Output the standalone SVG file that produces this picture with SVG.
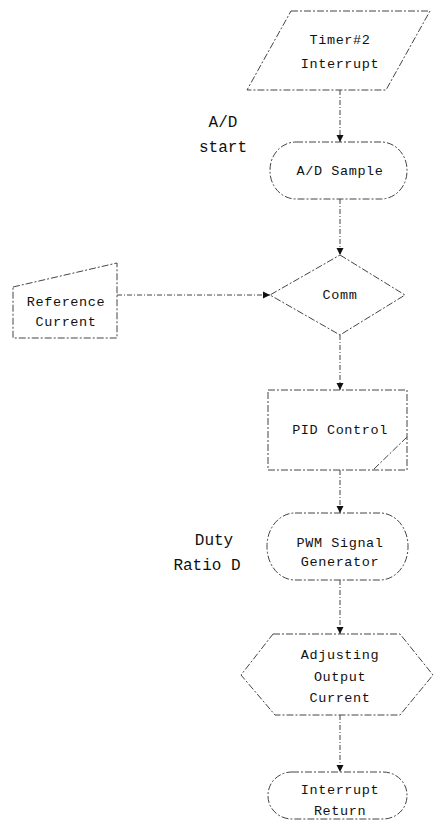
<svg xmlns="http://www.w3.org/2000/svg" width="440" height="825" viewBox="0 0 440 825">
  <defs>
    <marker id="arrow" viewBox="0 0 10 10" refX="10" refY="5" markerWidth="7" markerHeight="9" orient="auto" markerUnits="userSpaceOnUse">
      <path d="M0,0 L10,5 L0,10 z" fill="#111"/>
    </marker>
    <style>
      .shape { fill: none; stroke: #444; stroke-width: 1; stroke-dasharray: 7 2 2 2; }
      .link { fill: none; stroke: #444; stroke-width: 1; stroke-dasharray: 5 2 1 2; }
      .t { font-family: "Liberation Mono", "DejaVu Sans Mono", monospace; font-size: 13.5px; letter-spacing: 0.6px; fill: #111; text-anchor: middle; }
      .side { font-family: "Liberation Mono", "DejaVu Sans Mono", monospace; font-size: 16px; fill: #111; text-anchor: middle; }
    </style>
  </defs>
  <rect width="440" height="825" fill="#fff"/>

  <!-- connectors -->
  <g id="connectors">
    <line class="link" x1="340" y1="90" x2="340" y2="142" marker-end="url(#arrow)"/>
    <line class="link" x1="340" y1="199" x2="340" y2="255" marker-end="url(#arrow)"/>
    <line class="link" x1="117" y1="295" x2="270" y2="295" marker-end="url(#arrow)"/>
    <line class="link" x1="340" y1="335" x2="340" y2="390" marker-end="url(#arrow)"/>
    <line class="link" x1="340" y1="470" x2="340" y2="513" marker-end="url(#arrow)"/>
    <line class="link" x1="340" y1="580" x2="340" y2="634" marker-end="url(#arrow)"/>
    <line class="link" x1="340" y1="715" x2="340" y2="772" marker-end="url(#arrow)"/>
  </g>

  <g id="timer-interrupt">
    <polygon class="shape" points="291,11 430,11 386,90 247,90"/>
    <text class="t" x="340" y="44">Timer#2</text>
    <text class="t" x="340" y="68">Interrupt</text>
  </g>

  <g id="ad-start-label">
    <text class="side" x="223" y="127">A/D</text>
    <text class="side" x="223" y="152">start</text>
  </g>

  <g id="ad-sample">
    <rect class="shape" x="270" y="142" width="137" height="57" rx="26" ry="28"/>
    <text class="t" x="340" y="175">A/D Sample</text>
  </g>

  <g id="reference-current">
    <polygon class="shape" points="13,287 117,263 117,338 13,338"/>
    <text class="t" x="66" y="306">Reference</text>
    <text class="t" x="66" y="326">Current</text>
  </g>

  <g id="comm">
    <polygon class="shape" points="340,255 405,295 340,335 270,295"/>
    <text class="t" x="340" y="299">Comm</text>
  </g>

  <g id="pid-control">
    <polygon class="shape" points="268,390 407,390 407,470 268,470"/>
    <line class="shape" x1="407" y1="437" x2="373" y2="470"/>
    <text class="t" x="340" y="434">PID Control</text>
  </g>

  <g id="duty-ratio-label">
    <text class="side" x="214" y="545">Duty</text>
    <text class="side" x="207" y="570">Ratio D</text>
  </g>

  <g id="pwm-generator">
    <rect class="shape" x="267" y="513" width="141" height="67" rx="28" ry="33"/>
    <text class="t" x="340" y="547">PWM Signal</text>
    <text class="t" x="340" y="566">Generator</text>
  </g>

  <g id="adjusting-output">
    <polygon class="shape" points="273,634 400,634 433,675 400,715 275,715 241,675"/>
    <text class="t" x="340" y="659">Adjusting</text>
    <text class="t" x="340" y="681">Output</text>
    <text class="t" x="340" y="702">Current</text>
  </g>

  <g id="interrupt-return">
    <rect class="shape" x="268" y="772" width="139" height="47" rx="24" ry="23"/>
    <text class="t" x="340" y="794">Interrupt</text>
    <text class="t" x="340" y="815">Return</text>
  </g>
</svg>
